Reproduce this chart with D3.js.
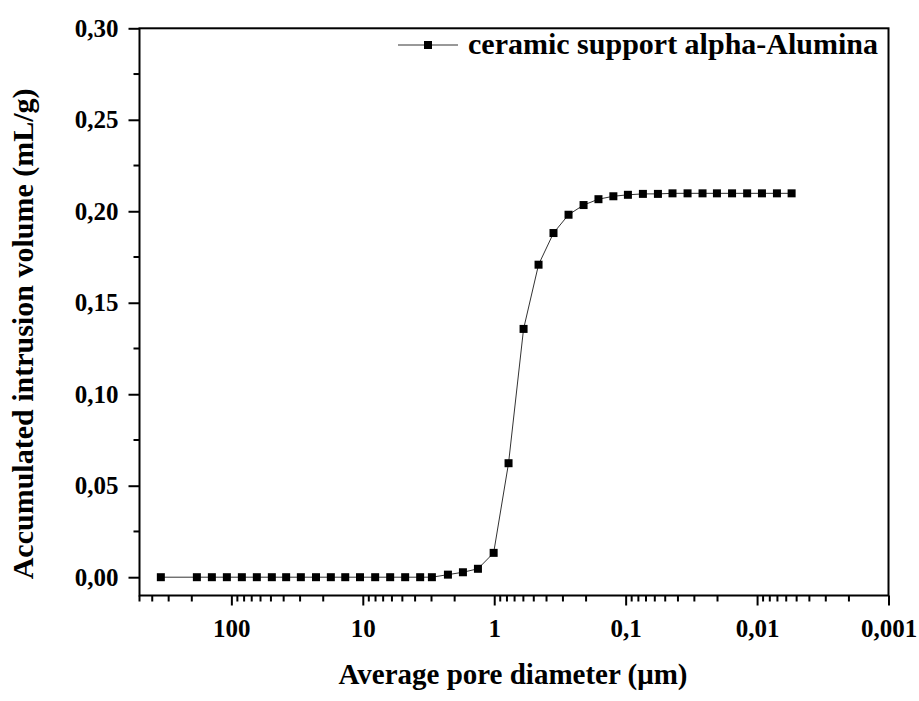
<!DOCTYPE html>
<html>
<head>
<meta charset="utf-8">
<script src="https://cdn.jsdelivr.net/npm/d3@7"></script>
<style>
  body { margin: 0; background: #fff; }
  text { font-family: "Liberation Serif", "Times New Roman", serif; font-weight: bold; fill: #000; }
</style>
</head>
<body>
<div id="chart"></div>
<script>
// pore diameter (um) and accumulated intrusion volume (mL/g)
var diameters = [344, 183, 140.7, 108.2, 83.2, 64.0, 49.2, 38.3, 29.6, 22.7, 17.5, 13.6, 10.5, 8.05, 6.19, 4.76, 3.66, 2.98,
                 2.25, 1.73, 1.33, 1.01, 0.778, 0.598, 0.460, 0.354, 0.272, 0.209, 0.161, 0.124,
                 0.0961, 0.0739, 0.0568, 0.0440, 0.0338, 0.0260, 0.0202, 0.0155, 0.0119, 0.00918, 0.00706, 0.00546];
var volumes = [0, 0, 0, 0, 0, 0, 0, 0, 0, 0, 0, 0, 0, 0, 0, 0, 0, 0,
               0.0014, 0.0027, 0.0046, 0.0133, 0.0623, 0.1357, 0.1708, 0.1881, 0.1981, 0.2034, 0.2066, 0.2082,
               0.2090, 0.2095, 0.2095, 0.2098, 0.2098, 0.2098, 0.2098, 0.2098, 0.2098, 0.2098, 0.2098, 0.2098];

var xTicks = [100, 10, 1, 0.1, 0.01, 0.001];
var xTickLabels = ["100", "10", "1", "0,1", "0,01", "0,001"];
var yTicks = [0, 0.05, 0.10, 0.15, 0.20, 0.25, 0.30];
var yMinorTicks = [0.025, 0.075, 0.125, 0.175, 0.225, 0.275];

var seriesName = "ceramic support alpha-Alumina";
var xTitle = "Average pore diameter (\u03bcm)";
var yTitle = "Accumulated intrusion volume (mL/g)";

var W = 919, H = 701;
var margin = {left: 139.5, right: 888.5, top: 28.3, bottom: 595.5};

var svg = d3.select("#chart").append("svg")
  .attr("width", W)
  .attr("height", H);

var x = d3.scaleLog().domain([500, 0.001]).range([margin.left, margin.right]);
var y = d3.scaleLinear().domain([-0.01, 0.30]).range([margin.bottom, margin.top]);

// minor ticks for the log axis: 2..9 in every decade inside the domain
var xMinor = [];
for (var e = -3; e <= 2; e++) {
  for (var m = 2; m <= 9; m++) {
    var v = m * Math.pow(10, e);
    if (v <= 500 && v >= 0.001) xMinor.push(v);
  }
}

// frame
svg.append("rect")
  .attr("x", margin.left).attr("y", margin.top)
  .attr("width", margin.right - margin.left).attr("height", margin.bottom - margin.top)
  .attr("fill", "none").attr("stroke", "#000").attr("stroke-width", 2);

// x axis
var xAxis = d3.axisBottom(x)
  .tickValues(xTicks)
  .tickSize(10)
  .tickPadding(14)
  .tickFormat(function(d, i) { return xTickLabels[i]; });

var gx = svg.append("g")
  .attr("class", "x-axis")
  .attr("transform", "translate(0," + margin.bottom + ")")
  .call(xAxis);

gx.selectAll(".minor")
  .data(xMinor)
  .enter().append("line")
  .attr("class", "minor")
  .attr("x1", function(d) { return x(d); })
  .attr("x2", function(d) { return x(d); })
  .attr("y1", 0).attr("y2", 6)
  .attr("stroke", "#000").attr("stroke-width", 2);

// y axis
var yAxis = d3.axisLeft(y)
  .tickValues(yTicks)
  .tickSize(11)
  .tickPadding(10)
  .tickFormat(function(d) { return d3.format(".2f")(d).replace(".", ","); });

var gy = svg.append("g")
  .attr("class", "y-axis")
  .attr("transform", "translate(" + margin.left + ",0)")
  .call(yAxis);

gy.selectAll(".minor")
  .data(yMinorTicks)
  .enter().append("line")
  .attr("class", "minor")
  .attr("y1", function(d) { return y(d); })
  .attr("y2", function(d) { return y(d); })
  .attr("x1", 0).attr("x2", -6)
  .attr("stroke", "#000").attr("stroke-width", 2);

svg.selectAll(".domain").remove();
svg.selectAll(".tick line").attr("stroke", "#000").attr("stroke-width", 2);
svg.selectAll(".tick text")
  .style("font-family", "'Liberation Serif', 'Times New Roman', serif")
  .style("font-weight", "bold")
  .style("font-size", "25px")
  .attr("fill", "#000");

// axis titles
svg.append("text")
  .attr("x", 513).attr("y", 684)
  .attr("text-anchor", "middle")
  .style("font-size", "29px")
  .text(xTitle);

svg.append("text")
  .attr("transform", "translate(33," + ((margin.top + margin.bottom) / 2 + 22) + ") rotate(-90)")
  .attr("text-anchor", "middle")
  .style("font-size", "30px")
  .text(yTitle);

// series
var points = diameters.map(function(d, i) { return { d: d, v: volumes[i] }; });

var line = d3.line()
  .x(function(p) { return x(p.d); })
  .y(function(p) { return y(p.v); });

svg.append("path")
  .datum(points)
  .attr("d", line)
  .attr("fill", "none")
  .attr("stroke", "#333")
  .attr("stroke-width", 1);

var sz = 8;
svg.selectAll(".pt")
  .data(points)
  .enter().append("rect")
  .attr("class", "pt")
  .attr("x", function(p) { return x(p.d) - sz / 2; })
  .attr("y", function(p) { return y(p.v) - sz / 2; })
  .attr("width", sz).attr("height", sz)
  .attr("fill", "#000");

// legend
var lg = svg.append("g").attr("class", "legend");
lg.append("line")
  .attr("x1", 398).attr("x2", 458)
  .attr("y1", 45).attr("y2", 45)
  .attr("stroke", "#333").attr("stroke-width", 1);
lg.append("rect")
  .attr("x", 428 - sz / 2).attr("y", 45 - sz / 2)
  .attr("width", sz).attr("height", sz)
  .attr("fill", "#000");
lg.append("text")
  .attr("x", 468).attr("y", 54)
  .style("font-size", "30px")
  .text(seriesName);
</script>
</body>
</html>
